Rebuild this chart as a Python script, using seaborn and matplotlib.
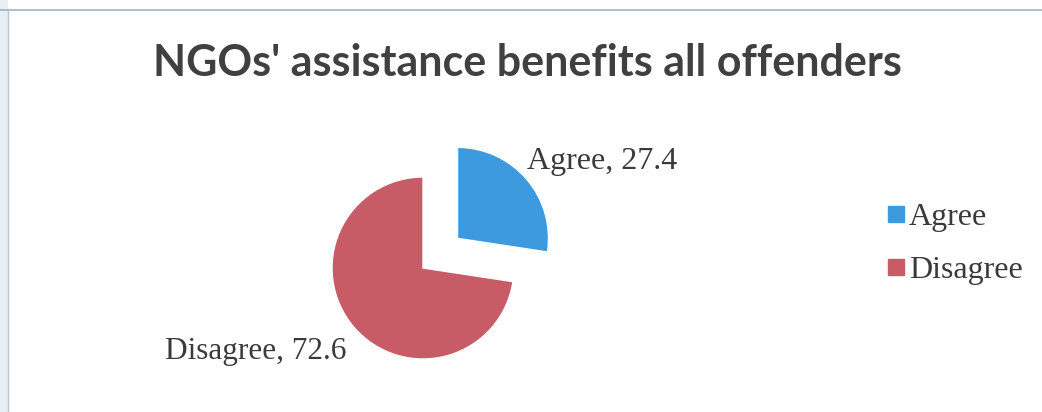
import matplotlib
matplotlib.use("Agg")
import matplotlib.pyplot as plt
from matplotlib.lines import Line2D
import seaborn as sns

# Survey responses (percent)
categories = ["Agree", "Disagree"]
values = [27.4, 72.6]
colors = ["#3d9ade", "#c85c66"]
title = "NGOs' assistance benefits all offenders"

sns.set_theme(style="white")
plt.rcParams["font.family"] = ["DejaVu Sans"]

W, H = 1042, 412
fig = plt.figure(figsize=(W / 100, H / 100), dpi=100)
fig.patch.set_facecolor("white")

# pixel geometry of the pie
cx, cy, R = 423, 268, 91
ax = fig.add_axes([0, 0, 1, 1])

wedges, _ = ax.pie(values, colors=colors, startangle=90, counterclock=False,
                   explode=[0.5, 0.0], radius=1.0, center=(0, 0), frame=True)
ax.axis("off")
ax.set_aspect("equal")
ax.set_xlim(-cx / R, (W - cx) / R)
ax.set_ylim(-(H - cy) / R, cy / R)

# data labels
label_font = dict(family="Liberation Serif", color="#3a3a3a")
ax.text((527 - cx) / R, (cy - 162) / R, f"{categories[0]}, {values[0]}",
        ha="left", va="center", fontsize=23, **label_font)
ax.text((165 - cx) / R, (cy - 352) / R, f"{categories[1]}, {values[1]}",
        ha="left", va="center", fontsize=22.5, **label_font)

# legend
handles = [Line2D([], [], marker="s", linestyle="none", markersize=11,
                  markerfacecolor=c, markeredgecolor=c) for c in colors]
leg = fig.legend(handles, categories, loc="center left",
                 bbox_to_anchor=(886 / W, 1 - 244 / H), frameon=False,
                 prop=dict(family="Liberation Serif", size=23),
                 handletextpad=0.12, labelspacing=0.75, handlelength=0.6,
                 borderaxespad=0, borderpad=0)
for t in leg.get_texts():
    t.set_color("#3a3a3a")

fig.text(527 / W, 1 - 63 / H, title, ha="center", va="center",
         fontsize=31, fontweight="bold", family="Lato", color="#404040")

# thin page border
fig.add_artist(Line2D([0, 1], [1 - 10 / H, 1 - 10 / H], transform=fig.transFigure,
                      color="#9fb3c4", lw=1.2))
fig.add_artist(Line2D([8 / W, 8 / W], [0, 1 - 10 / H], transform=fig.transFigure,
                      color="#b8c6d2", lw=1.0))
fig.patches.append(plt.Rectangle((0, 0), 8 / W, 1, transform=fig.transFigure,
                                 facecolor="#e8eef3", edgecolor="none", zorder=-1))

fig.savefig("out.png", dpi=100)
